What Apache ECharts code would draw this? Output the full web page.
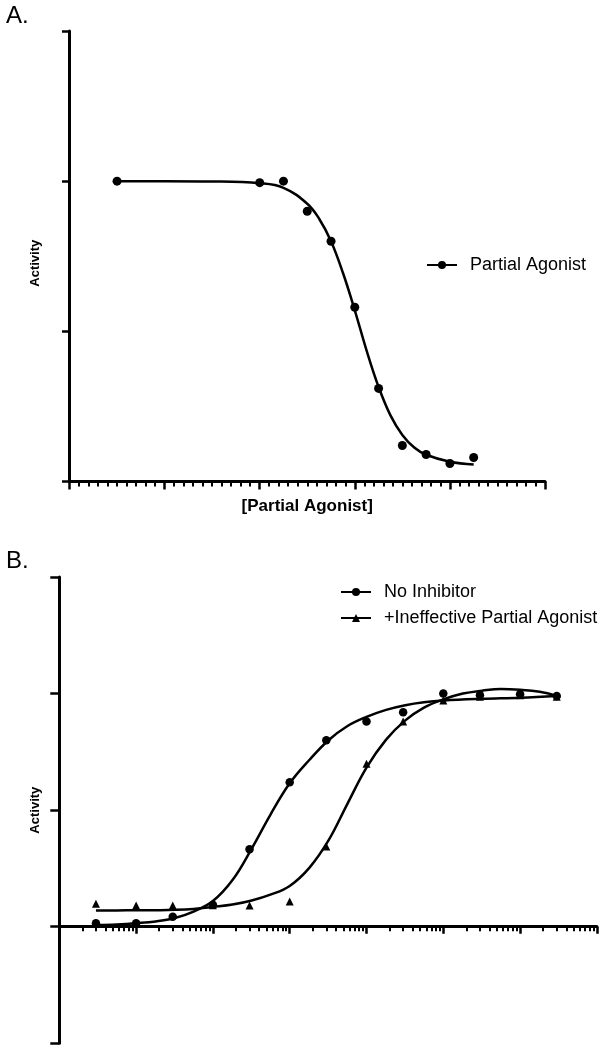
<!DOCTYPE html>
<html>
<head>
<meta charset="utf-8">
<script src="https://cdn.jsdelivr.net/npm/echarts@6/dist/echarts.min.js"></script>
<style>
  html, body { margin: 0; padding: 0; background: #fff; }
  #chart { width: 603px; height: 1048px; }
</style>
</head>
<body>
<div id="chart"></div>
<script>
const FONT = 'Arial, "Liberation Sans", sans-serif';
const INK = '#000';

// Panel A: activity vs log[partial agonist]
const A_X = [-9.5, -8, -7.75, -7.5, -7.25, -7, -6.75, -6.5, -6.25, -6, -5.75];
const A_Y = [100, 99.5, 100, 90, 80, 58, 31, 12, 9, 6, 8];
// fitted curve
const A_FIT_X = [-9.5, -9, -8.5, -8, -7.75, -7.5, -7.375, -7.25, -7.125, -7, -6.875, -6.75, -6.625, -6.5, -6.375, -6.25, -6, -5.75];
const A_FIT_Y = [100, 100, 99.9, 99.3, 97.8, 92.5, 87.5, 80, 69.5, 57, 43.5, 31.5, 22, 15.5, 11.3, 8.9, 6.6, 5.7];

// Panel B: activity vs [agonist] (M)
const B_CONC = [3e-11, 1e-10, 3e-10, 1e-9, 3e-9, 1e-8, 3e-8, 1e-7, 3e-7, 1e-6, 3e-6, 1e-5, 3e-5];
const B_NO_INHIB = [3, 3, 8.5, 18.8, 66.5, 124, 160, 176, 184, 200, 198.5, 199.5, 198];
const B_PLUS_PA = [19.7, 18.3, 18.3, 18.5, 18.3, 21.7, 68.8, 139.7, 176, 194, 197.3, 198.5, 197.3];

// fitted curves at quarter-decade steps
const B_FIT_NO_INHIB_X = [3e-11, 5.6e-11, 1e-10, 1.8e-10, 3.2e-10, 5.6e-10, 1e-9, 1.8e-9, 3.2e-9, 5.6e-9, 1e-8, 1.8e-8, 3.2e-8, 5.6e-8, 1e-7, 1.8e-7, 3.2e-7, 5.6e-7, 1e-6, 3.2e-6, 1e-5, 3e-5];
const B_FIT_NO_INHIB_Y = [1.5, 2, 3, 4.5, 7.5, 13, 22, 40, 67, 96, 123, 143, 160, 172, 180, 186, 190, 192.5, 194, 195.5, 196.5, 198];
const B_FIT_PLUS_PA_X = [3e-11, 5.6e-11, 1e-10, 1.8e-10, 3.2e-10, 5.6e-10, 1e-9, 1.8e-9, 3.2e-9, 5.6e-9, 1e-8, 1.8e-8, 3.2e-8, 5.6e-8, 1e-7, 1.8e-7, 3.2e-7, 5.6e-7, 1e-6, 1.8e-6, 3.2e-6, 5.6e-6, 1e-5, 1.8e-5, 3e-5];
const B_FIT_PLUS_PA_Y = [14, 14, 14.1, 14.2, 14.5, 15.3, 17, 19, 22.5, 27.5, 35, 50.5, 74, 105, 136.5, 160.5, 177, 188, 195, 200, 202.5, 204, 203.3, 201.5, 198];

// axis ticks for panel B (decades and the 2..9 multiples inside them)
const B_DECADES = [-11, -10, -9, -8, -7, -6, -5];
const B_MULTIPLES = [2, 3, 4, 5, 6, 7, 8, 9];
const B_MINOR_TICKS = B_DECADES.flatMap(d => B_MULTIPLES.map(m => d + Math.log10(m)));

const pairs = (xs, ys) => xs.map((x, i) => [x, ys[i]]);

const chart = echarts.init(document.getElementById('chart'), null, { renderer: 'canvas' });

const nameStyle = { fontFamily: FONT, fontWeight: 'bold', fontSize: 17, color: INK };
const yNameStyle = { fontFamily: FONT, fontWeight: 'bold', fontSize: 13, color: INK };
const legendText = { fontFamily: FONT, fontSize: 18, color: INK, padding: [0, 0, 0, 8] };
const dotStyle = { color: INK, opacity: 1 };

chart.setOption({
  animation: false,
  backgroundColor: '#fff',
  graphic: [
    { type: 'text', left: 6, top: 4, style: { text: 'A.', font: '24px ' + FONT, fill: INK } },
    { type: 'text', left: 6, top: 549, style: { text: 'B.', font: '24px ' + FONT, fill: INK } }
  ],
  grid: [
    { left: 69.5, top: 31, width: 475.5, height: 450.5, outerBoundsMode: 'none' },
    { left: 59.3, top: 577, width: 537.6, height: 466.3, outerBoundsMode: 'none' }
  ],
  legend: [
    {
      data: ['Partial Agonist'],
      left: 426, top: 256, padding: 0,
      itemWidth: 30, itemHeight: 10,
      selectedMode: false,
      textStyle: legendText
    },
    {
      data: ['No Inhibitor', '+Ineffective Partial Agonist'],
      orient: 'vertical',
      left: 340, top: 583, padding: 0, itemGap: 8,
      itemWidth: 30, itemHeight: 10,
      selectedMode: false,
      textStyle: legendText
    }
  ],
  xAxis: [
    {
      gridIndex: 0, type: 'value', min: -10, max: -5, interval: 1,
      name: '[Partial Agonist]', nameLocation: 'middle', nameGap: 16, nameTextStyle: nameStyle,
      axisLine: { lineStyle: { color: INK, width: 3 } },
      axisTick: { length: 8, lineStyle: { color: INK, width: 2.5 } },
      minorTick: { show: true, splitNumber: 10, length: 5, lineStyle: { color: INK, width: 2 } },
      axisLabel: { show: false }, splitLine: { show: false }
    },
    {
      gridIndex: 1, type: 'log', min: 1e-11, max: 1e-4,
      name: '[Agonist]', nameLocation: 'middle', nameGap: 12, nameTextStyle: nameStyle,
      axisLine: { onZero: true, onZeroAxisIndex: 1, lineStyle: { color: INK, width: 3 } },
      axisTick: { show: false }, axisLabel: { show: false }, splitLine: { show: false }
    },
    {
      gridIndex: 1, type: 'value', min: -11, max: -4, interval: 1, position: 'bottom',
      axisLine: { show: false, onZero: true, onZeroAxisIndex: 1 },
      axisTick: { length: 7, lineStyle: { color: INK, width: 2.5 } },
      axisLabel: { show: false }, splitLine: { show: false }
    },
    {
      gridIndex: 1, type: 'value', min: -11, max: -4, position: 'bottom',
      axisLine: { show: false, onZero: true, onZeroAxisIndex: 1 },
      axisTick: { customValues: B_MINOR_TICKS, length: 4.5, lineStyle: { color: INK, width: 2 } },
      axisLabel: { show: false }, splitLine: { show: false }
    }
  ],
  yAxis: [
    {
      gridIndex: 0, type: 'value', min: 0, max: 150, interval: 50,
      name: 'Activity', nameLocation: 'middle', nameGap: 28,
      nameTextStyle: Object.assign({}, yNameStyle, { padding: [0, 14, 0, 0] }),
      axisLine: { onZero: false, lineStyle: { color: INK, width: 3 } },
      axisTick: { length: 7.5, lineStyle: { color: INK, width: 2.5 } },
      axisLabel: { show: false }, splitLine: { show: false }
    },
    {
      gridIndex: 1, type: 'value', min: -100, max: 300, interval: 100,
      name: 'Activity', nameLocation: 'middle', nameGap: 17, nameTextStyle: yNameStyle,
      axisLine: { onZero: false, lineStyle: { color: INK, width: 3 } },
      axisTick: { length: 9, lineStyle: { color: INK, width: 2.5 } },
      axisLabel: { show: false }, splitLine: { show: false }
    }
  ],
  series: [
    {
      name: 'Partial Agonist', type: 'line', xAxisIndex: 0, yAxisIndex: 0,
      data: pairs(A_FIT_X, A_FIT_Y),
      smooth: 0.4, symbol: 'circle', showSymbol: false,
      lineStyle: { color: INK, width: 2.5 }, itemStyle: { color: INK }
    },
    {
      name: 'Partial Agonist points', type: 'scatter', xAxisIndex: 0, yAxisIndex: 0,
      data: pairs(A_X, A_Y), symbol: 'circle', symbolSize: 9,
      itemStyle: dotStyle, z: 3
    },
    {
      name: 'No Inhibitor', type: 'line', xAxisIndex: 1, yAxisIndex: 1,
      data: pairs(B_FIT_NO_INHIB_X, B_FIT_NO_INHIB_Y),
      smooth: 0.4, symbol: 'circle', showSymbol: false,
      lineStyle: { color: INK, width: 2.5 }, itemStyle: { color: INK }
    },
    {
      name: '+Ineffective Partial Agonist', type: 'line', xAxisIndex: 1, yAxisIndex: 1,
      data: pairs(B_FIT_PLUS_PA_X, B_FIT_PLUS_PA_Y),
      smooth: 0.4, symbol: 'triangle', showSymbol: false,
      lineStyle: { color: INK, width: 2.5 }, itemStyle: { color: INK }
    },
    {
      name: 'No Inhibitor points', type: 'scatter', xAxisIndex: 1, yAxisIndex: 1,
      data: pairs(B_CONC, B_NO_INHIB), symbol: 'circle', symbolSize: 8.5,
      itemStyle: dotStyle, z: 3
    },
    {
      name: '+Ineffective Partial Agonist points', type: 'scatter', xAxisIndex: 1, yAxisIndex: 1,
      data: pairs(B_CONC, B_PLUS_PA), symbol: 'triangle', symbolSize: 8,
      itemStyle: dotStyle, z: 3
    }
  ]
});
</script>
</body>
</html>
